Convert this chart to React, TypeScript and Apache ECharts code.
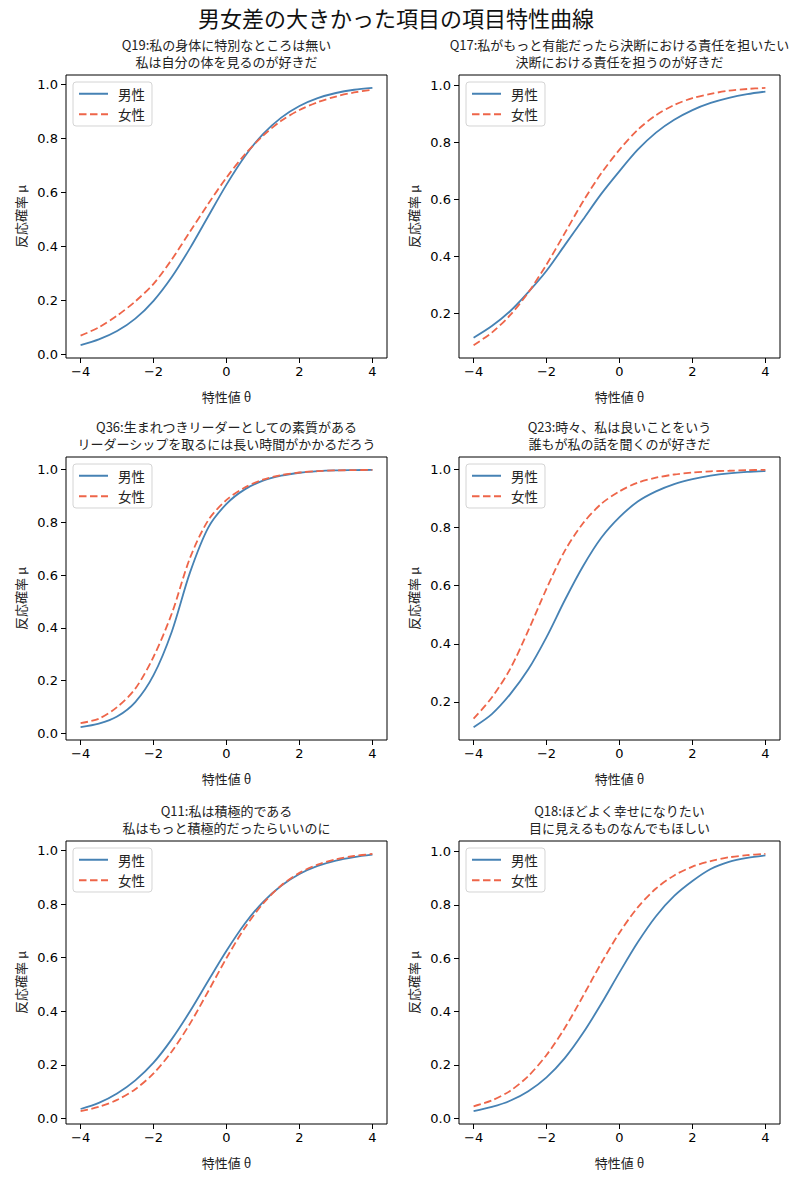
import { useEffect, useRef } from 'react'
import * as echarts from 'echarts'

// θ の読み取り点
const theta = [-4, -3.5, -3, -2.5, -2, -1.5, -1, -0.5, 0, 0.5, 1, 1.5, 2, 2.5, 3, 3.5, 4]

const q19Male = [0.035, 0.056, 0.087, 0.133, 0.199, 0.287, 0.394, 0.512, 0.629, 0.733, 0.816, 0.877, 0.92, 0.949, 0.968, 0.98, 0.987]
const q19Female = [0.07, 0.101, 0.144, 0.197, 0.262, 0.352, 0.455, 0.558, 0.655, 0.74, 0.81, 0.865, 0.905, 0.934, 0.955, 0.97, 0.98]

const q17Male = [0.115, 0.156, 0.208, 0.275, 0.35, 0.44, 0.53, 0.62, 0.7, 0.775, 0.835, 0.88, 0.914, 0.939, 0.957, 0.97, 0.979]
const q17Female = [0.089, 0.133, 0.194, 0.274, 0.372, 0.482, 0.593, 0.692, 0.775, 0.845, 0.896, 0.932, 0.956, 0.971, 0.982, 0.988, 0.992]

const q36Male = [0.023, 0.036, 0.063, 0.118, 0.22, 0.385, 0.61, 0.78, 0.87, 0.925, 0.958, 0.977, 0.988, 0.994, 0.997, 0.998, 0.999]
const q36Female = [0.038, 0.055, 0.099, 0.169, 0.29, 0.454, 0.665, 0.808, 0.885, 0.932, 0.962, 0.979, 0.989, 0.994, 0.997, 0.998, 0.999]

const q23Male = [0.113, 0.158, 0.226, 0.312, 0.423, 0.55, 0.667, 0.765, 0.836, 0.89, 0.925, 0.95, 0.967, 0.979, 0.987, 0.992, 0.995]
const q23Female = [0.142, 0.215, 0.313, 0.446, 0.59, 0.72, 0.815, 0.882, 0.925, 0.955, 0.972, 0.983, 0.99, 0.994, 0.996, 0.998, 0.999]

const q11Male = [0.035, 0.058, 0.093, 0.142, 0.208, 0.296, 0.4, 0.514, 0.626, 0.727, 0.808, 0.869, 0.913, 0.943, 0.963, 0.976, 0.985]
const q11Female = [0.027, 0.043, 0.069, 0.109, 0.168, 0.25, 0.354, 0.475, 0.599, 0.711, 0.802, 0.87, 0.917, 0.948, 0.968, 0.98, 0.988]

const q18Male = [0.026, 0.042, 0.065, 0.101, 0.153, 0.225, 0.319, 0.429, 0.547, 0.66, 0.758, 0.834, 0.89, 0.935, 0.962, 0.977, 0.986]
const q18Female = [0.044, 0.066, 0.102, 0.158, 0.237, 0.338, 0.458, 0.582, 0.696, 0.791, 0.862, 0.911, 0.944, 0.965, 0.979, 0.987, 0.992]

const panelTitles = [
  ['Q19:私の身体に特別なところは無い', '私は自分の体を見るのが好きだ'],
  ['Q17:私がもっと有能だったら決断における責任を担いたい', '決断における責任を担うのが好きだ'],
  ['Q36:生まれつきリーダーとしての素質がある', 'リーダーシップを取るには長い時間がかかるだろう'],
  ['Q23:時々、私は良いことをいう', '誰もが私の話を聞くのが好きだ'],
  ['Q11:私は積極的である', '私はもっと積極的だったらいいのに'],
  ['Q18:ほどよく幸せになりたい', '目に見えるものなんでもほしい'],
]
const maleSeries = [q19Male, q17Male, q36Male, q23Male, q11Male, q18Male]
const femaleSeries = [q19Female, q17Female, q36Female, q23Female, q11Female, q18Female]
const groupNames = ['男性', '女性']
const xTicks = [-4, -2, 0, 2, 4]
const yTicks = [0, 0.2, 0.4, 0.6, 0.8, 1.0]

const FONT = '"DejaVu Sans", "Noto Sans CJK JP", sans-serif'
const JP_FONT = '"Noto Sans CJK JP", "DejaVu Sans", sans-serif'
const MALE_COLOR = '#4682b4'
const FEMALE_COLOR = '#ee6549'

const COL_LEFT = [66, 459]
const ROW_TOP = [75, 457, 841]
const PLOT_W = 321
const PLOT_H = 283

function buildOption() {
  const grid: any[] = []
  const xAxis: any[] = []
  const yAxis: any[] = []
  const series: any[] = []
  const legend: any[] = []
  const title: any[] = [
    {
      text: '男女差の大きかった項目の項目特性曲線',
      left: 396,
      top: 6,
      textAlign: 'center',
      padding: 0,
      textStyle: { fontSize: 22, fontWeight: 'normal', color: '#111', fontFamily: JP_FONT },
    },
  ]

  panelTitles.forEach((lines, i) => {
    const left = COL_LEFT[i % 2]
    const top = ROW_TOP[Math.floor(i / 2)]
    const male = maleSeries[i]
    const female = femaleSeries[i]
    const all = male.concat(female)
    const lo = Math.min(...all)
    const hi = Math.max(...all)
    const pad = (hi - lo) * 0.05

    grid.push({
      left,
      top,
      width: PLOT_W,
      height: PLOT_H,
      show: true,
      borderColor: '#000',
      borderWidth: 1,
      backgroundColor: 'transparent',
    })
    lines.forEach((line, j) => {
      title.push({
        text: line,
        left: left + PLOT_W / 2,
        top: top - 38 + j * 17,
        textAlign: 'center',
        padding: 0,
        textStyle: { fontSize: 13, lineHeight: 15, fontWeight: 'normal', color: '#222', fontFamily: JP_FONT },
      })
    })
    xAxis.push({
      type: 'value',
      gridIndex: i,
      min: -4.4,
      max: 4.4,
      name: '特性値 θ',
      nameLocation: 'middle',
      nameGap: 32,
      nameTextStyle: { fontSize: 13, color: '#222', fontFamily: JP_FONT },
      axisLine: { show: false, onZero: false },
      splitLine: { show: false },
      axisTick: { show: true, inside: false, length: 5, customValues: xTicks, lineStyle: { color: '#000', width: 1 } },
      axisLabel: {
        show: true,
        margin: 7,
        customValues: xTicks,
        fontSize: 13,
        color: '#000',
        fontFamily: FONT,
        formatter: (v: number) => (v < 0 ? '\u2212' + Math.abs(v) : String(v)),
      },
    })
    yAxis.push({
      type: 'value',
      gridIndex: i,
      min: lo - pad,
      max: hi + pad,
      name: '反応確率 μ',
      nameLocation: 'middle',
      nameRotate: 90,
      nameGap: 39,
      nameTextStyle: { fontSize: 13, color: '#222', fontFamily: JP_FONT },
      axisLine: { show: false, onZero: false },
      splitLine: { show: false },
      axisTick: { show: true, inside: false, length: 5, customValues: yTicks, lineStyle: { color: '#000', width: 1 } },
      axisLabel: {
        show: true,
        margin: 8,
        customValues: yTicks,
        fontSize: 13,
        color: '#000',
        fontFamily: FONT,
        formatter: (v: number) => v.toFixed(1),
      },
    })
    legend.push({
      orient: 'vertical',
      left: left + 7,
      top: top + 7,
      data: groupNames,
      itemWidth: 29,
      itemHeight: 14,
      itemGap: 7,
      padding: [5, 7, 5, 5],
      borderColor: '#d4d4d4',
      borderWidth: 1,
      borderRadius: 3,
      backgroundColor: 'rgba(255,255,255,0.8)',
      selectedMode: false,
      itemStyle: { opacity: 0 },
      textStyle: { fontSize: 13.5, color: '#222', fontFamily: JP_FONT, padding: [0, 0, 0, 5] },
    })

    const mk = (name: string, vals: number[], color: string, dashed: boolean) => ({
      type: 'line',
      name,
      xAxisIndex: i,
      yAxisIndex: i,
      data: theta.map((x, k) => [x, vals[k]]),
      smooth: 0.3,
      symbol: 'none',
      showSymbol: false,
      itemStyle: { color },
      lineStyle: { color, width: 1.8, type: dashed ? [7.5, 3.5] : 'solid' },
      z: dashed ? 3 : 2,
    })
    series.push(mk(groupNames[0], male, MALE_COLOR, false))
    series.push(mk(groupNames[1], female, FEMALE_COLOR, true))
  })

  return {
    animation: false,
    backgroundColor: '#fff',
    title,
    legend,
    grid,
    xAxis,
    yAxis,
    series,
  }
}

export default function App() {
  const ref = useRef<HTMLDivElement>(null)

  useEffect(() => {
    if (!ref.current) return
    const chart = echarts.init(ref.current, undefined, { renderer: 'svg' })
    chart.setOption(buildOption())
    return () => chart.dispose()
  }, [])

  return (
    <div
      ref={ref}
      style={{ position: 'fixed', left: 0, top: 0, width: 812, height: 1180, background: '#fff' }}
    />
  )
}
